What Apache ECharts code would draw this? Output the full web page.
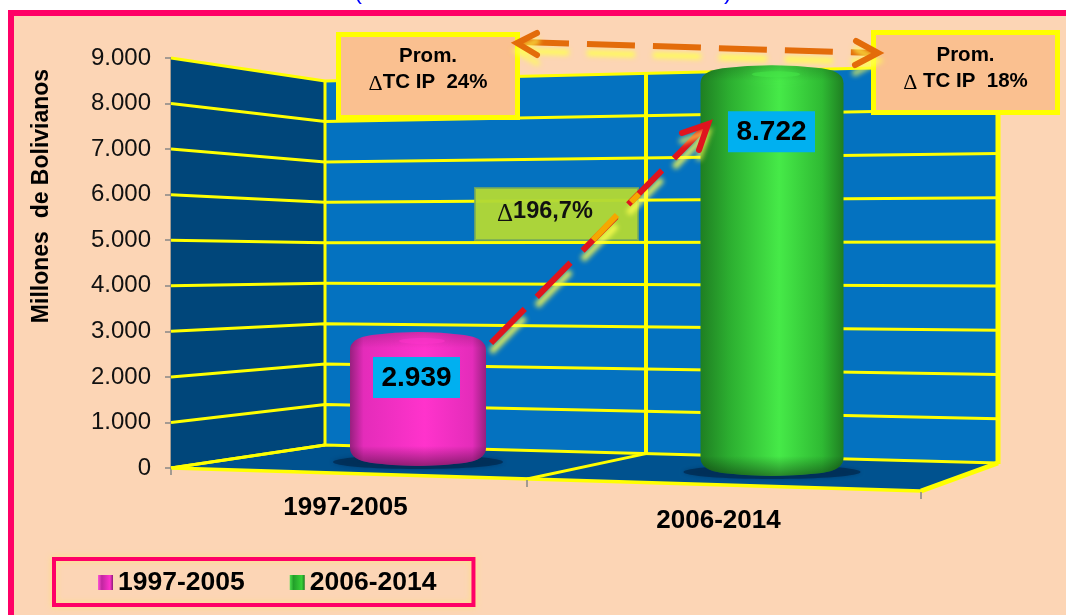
<!DOCTYPE html>
<html>
<head>
<meta charset="utf-8">
<style>html,body{margin:0;background:#fff}#main{width:1066px;height:615px}</style>
<script src="https://cdn.jsdelivr.net/npm/echarts@6/dist/echarts.min.js"></script>
</head>
<body>
<div id="main"></div>
<script>
const periods = ['1997-2005', '2006-2014']
const values = [2939, 8722]
const yTicks = [0, 1000, 2000, 3000, 4000, 5000, 6000, 7000, 8000, 9000]
const yMax = 9000
const promLabels = ['Prom.\n{d|Δ}TC IP  24%', 'Prom.\n{d|Δ} TC IP  18%']
const growthLabel = '{d|Δ}196,7%'

const font = '"Liberation Sans", Arial, sans-serif'
const YELLOW = '#FFFF00'
const PINK = '#FF0066'
// how far each value box sits below the top of its bar
const labelDrop = [25, 46]
const barColors = [
  [['#98207F', 0], ['#E42CBA', 0.1], ['#FF33CC', 0.55], ['#E42CBA', 0.9], ['#98207F', 1]],
  [['#1F7F22', 0], ['#2CAE30', 0.2], ['#46EA48', 0.55], ['#2FBA33', 0.85], ['#1F7F22', 1]]
]

// fake 3d box: x positions of the walls and their y at value 0 / yMax
const box = {
  frontL: 171, backL: 325, backR: 998, frontR: 921,
  floorFrontL: 468, floorBackL: 445, floorBackR: 463, floorFrontR: 491,
  topBackL: 81, topBackR: 65
}

function dotted(v) {
  return String(v).replace(/\B(?=(\d{3})+$)/g, '.')
}

function line(x1, y1, x2, y2, w, color) {
  return { type: 'line', shape: { x1, y1, x2, y2 }, style: { stroke: color || YELLOW, lineWidth: w } }
}

function poly(points, fill) {
  return { type: 'polygon', shape: { points }, style: { fill } }
}

function renderWalls() {
  const b = box
  const midX = 646, midFront = 527
  const midBackY = 453.6, midTopY = 73.4, midFrontY = 479
  return {
    type: 'group',
    children: [
      poly([[b.frontL, 58], [b.backL, b.topBackL], [b.backL, b.floorBackL], [b.frontL, b.floorFrontL]], '#00467A'),
      poly([[b.backL, b.topBackL], [b.backR, b.topBackR], [b.backR, b.floorBackR], [b.backL, b.floorBackL]], '#0472C0'),
      poly([[b.frontL, b.floorFrontL], [b.backL, b.floorBackL], [b.backR, b.floorBackR], [b.frontR, b.floorFrontR]], '#00528F'),
      line(b.backL, b.topBackL, b.backL, b.floorBackL, 3),
      line(midX, midTopY, midX, midBackY, 4),
      line(b.frontL, b.floorFrontL, b.backL, b.floorBackL, 3),
      line(midFront, midFrontY, midX, midBackY, 3),
      line(b.frontL, b.floorFrontL, b.frontR, b.floorFrontR, 3.5),
      line(b.frontR, b.floorFrontR, b.backR, b.floorBackR, 5),
      line(b.backR, b.topBackR, b.backR, b.floorBackR + 1, 5),
      line(b.frontL, b.floorFrontL, b.frontL, b.floorFrontL + 7, 1.5, '#868686'),
      line(midFront, midFrontY + 1, midFront, midFrontY + 8, 1.5, '#868686'),
      line(b.frontR, b.floorFrontR + 1, b.frontR, b.floorFrontR + 8, 1.5, '#868686')
    ]
  }
}

function renderGridLine(params, api) {
  const b = box
  const y = api.coord([0, api.value(1)])[1]
  const frac = (b.floorFrontL - y) / (b.floorFrontL - 58)
  const yBackL = b.floorBackL - frac * (b.floorBackL - b.topBackL)
  const yBackR = b.floorBackR - frac * (b.floorBackR - b.topBackR)
  return {
    type: 'polyline',
    shape: { points: [[b.frontL, y], [b.backL, yBackL], [b.backR, yBackR]] },
    style: { stroke: YELLOW, lineWidth: 3, fill: 'none' }
  }
}

function cylinderPath(w, h) {
  const r = 22
  return 'M0 18 Q0 6 ' + r + ' 3 Q' + w / 2 + ' -3 ' + (w - r) + ' 3 Q' + w + ' 6 ' + w + ' 18'
    + ' L' + w + ' ' + (h - 18) + ' Q' + w + ' ' + (h - 6) + ' ' + (w - r) + ' ' + (h - 3)
    + ' Q' + w / 2 + ' ' + (h + 3) + ' ' + r + ' ' + (h - 3) + ' Q0 ' + (h - 6) + ' 0 ' + (h - 18) + ' Z'
}

// the bars stand on the slanted floor, so shift the axis position into the box
function renderBar(params, api) {
  const idx = api.value(0)
  const v = api.value(1)
  const axisX = api.coord([idx, 0])[0]
  const y0 = api.coord([idx, 0])[1]
  const yV = api.coord([idx, v])[1]
  const t = (axisX - 358.5) / 375
  const cx = 418 + 354 * t
  const base = y0 - 2 + 10 * t
  const h = (y0 - yV) * (1 + 0.034 * t)
  const w = 136 + 7 * t
  const top = base - h
  const x = cx - w / 2
  const c = barColors[idx]
  const rim = 20 / h
  const shape = { pathData: cylinderPath(w, h), x, y: top, width: w, height: h, layout: 'cover' }
  return {
    type: 'group',
    children: [
      {
        type: 'ellipse',
        shape: { cx, cy: base - 4, rx: w / 2 + 17, ry: 7 },
        style: { fill: 'rgba(0,42,80,0.75)', shadowBlur: 4, shadowColor: 'rgba(0,42,80,0.6)' }
      },
      {
        type: 'path', shape,
        style: {
          fill: {
            type: 'linear', x: 0, y: 0, x2: 1, y2: 0,
            colorStops: c.map(s => ({ offset: s[1], color: s[0] }))
          }
        }
      },
      {
        type: 'path', shape,
        style: {
          fill: {
            type: 'linear', x: 0, y: 0, x2: 0, y2: 1,
            colorStops: [
              { offset: 0, color: 'rgba(0,0,0,0.18)' }, { offset: rim * 0.8, color: 'rgba(0,0,0,0)' },
              { offset: 1 - rim, color: 'rgba(0,0,0,0)' }, { offset: 1, color: 'rgba(0,0,0,0.42)' }
            ]
          }
        }
      },
      {
        type: 'ellipse',
        shape: { cx: cx + 4, cy: top + 9, rx: w * 0.17, ry: 3 },
        style: { fill: c[2][0], opacity: 0.5, shadowBlur: 8, shadowColor: c[2][0] }
      },
      {
        type: 'rect',
        shape: { x: cx - 45 + idx, y: top + labelDrop[idx], width: 87, height: 41 },
        style: { fill: '#00B0F0' }
      },
      {
        type: 'text',
        x: cx - 1.5 + idx, y: top + labelDrop[idx] + 21,
        style: { text: dotted(v), font: 'bold 28px ' + font, fill: '#000', align: 'center', verticalAlign: 'middle' }
      }
    ]
  }
}

const deltaStyle = { fontFamily: '"Liberation Serif", serif', fontWeight: 'normal', padding: [4, 0, 0, 0] }

function promBox(x, y, w, h, text, textY) {
  return [
    { type: 'rect', z: 10, shape: { x, y, width: w, height: h }, style: { fill: '#FAC090', stroke: YELLOW, lineWidth: 5 } },
    {
      type: 'text', z: 11, x: x + w / 2, y: textY,
      style: {
        text, fontFamily: font, fontWeight: 'bold', fontSize: 20.5, fill: '#000', align: 'center', verticalAlign: 'middle', lineHeight: 26,
        rich: { d: Object.assign({ fontSize: 22, lineHeight: 26 }, deltaStyle) }
      }
    }
  ]
}

function arrowLine(x1, y1, x2, y2, color, dash) {
  return {
    type: 'line', z: 12,
    shape: { x1, y1, x2, y2 },
    style: { stroke: color, lineWidth: 6, lineDash: dash, shadowColor: 'rgba(255,255,80,0.9)', shadowBlur: 5, shadowOffsetY: 9 }
  }
}

function arrowHead(points, color) {
  return {
    type: 'polyline', z: 12,
    shape: { points },
    style: { stroke: color, lineWidth: 6, fill: 'none', lineCap: 'round', shadowColor: 'rgba(255,255,80,0.7)', shadowBlur: 5, shadowOffsetY: 8 }
  }
}

const chart = echarts.init(document.getElementById('main'))
const option = {
  animation: false,
  backgroundColor: '#fff',
  textStyle: { fontFamily: font },
  grid: { left: 171, top: 58, width: 750, height: 410 },
  legend: {
    left: 54, top: 559,
    padding: [10, 37, 9, 44],
    data: periods,
    selectedMode: false,
    icon: 'rect',
    itemWidth: 15, itemHeight: 15, itemGap: 45,
    borderColor: PINK, borderWidth: 4,
    shadowColor: '#FFE27A', shadowBlur: 6,
    textStyle: { fontSize: 26.5, fontWeight: 'bold', color: '#000', fontFamily: font }
  },
  xAxis: {
    type: 'category',
    data: [
      { value: periods[0], textStyle: { padding: [0, 26, 0, 0] } },
      { value: periods[1], textStyle: { padding: [13, 30, 0, 0] } }
    ],
    axisLine: { show: false },
    axisTick: { show: false },
    axisLabel: { fontSize: 26, fontWeight: 'bold', color: '#000', margin: 27, fontFamily: font }
  },
  yAxis: {
    type: 'value', min: 0, max: yMax, interval: 1000,
    name: 'Millones  de Bolivianos',
    nameLocation: 'middle', nameRotate: 90, nameGap: 118,
    nameTextStyle: { fontSize: 23, fontWeight: 'bold', color: '#000', fontFamily: font, padding: [0, 0, 0, 134] },
    splitLine: { show: false },
    axisLine: { show: true, lineStyle: { color: '#868686', width: 1.5 } },
    axisTick: { show: true, length: 6, lineStyle: { color: '#868686', width: 1.5 } },
    axisLabel: { fontSize: 24, color: '#111', margin: 20, padding: [9, 0, 0, 0], fontFamily: font, formatter: dotted }
  },
  series: [
    { type: 'custom', name: 'walls', z: 1, silent: true, data: [[0, 0]], encode: { x: 0, y: 1 }, renderItem: renderWalls },
    { type: 'custom', name: 'grid', z: 1, silent: true, data: yTicks.map(v => [0, v]), encode: { x: 0, y: 1 }, renderItem: renderGridLine },
    {
      type: 'custom', name: periods[0], z: 3, data: [[0, values[0]]], encode: { x: 0, y: 1 }, renderItem: renderBar,
      itemStyle: { color: { type: 'linear', x: 0, y: 0, x2: 1, y2: 0, colorStops: [{ offset: 0, color: '#FF55D5' }, { offset: 0.25, color: '#C026A0' }, { offset: 0.8, color: '#FF33CC' }, { offset: 1, color: '#8C1C75' }] } }
    },
    {
      type: 'custom', name: periods[1], z: 3, data: [[1, values[1]]], encode: { x: 0, y: 1 }, renderItem: renderBar,
      itemStyle: { color: { type: 'linear', x: 0, y: 0, x2: 1, y2: 0, colorStops: [{ offset: 0, color: '#50E050' }, { offset: 0.25, color: '#22A02A' }, { offset: 0.8, color: '#38D038' }, { offset: 1, color: '#1C7C22' }] } }
    }
  ],
  graphic: [
    // page frame, open on the right and at the bottom
    { type: 'rect', z: -3, shape: { x: 8, y: 10, width: 1058, height: 605, r: [3, 0, 0, 0] }, style: { fill: '#FCD5B5' } },
    { type: 'rect', z: -2, shape: { x: 8, y: 10, width: 1058, height: 6 }, style: { fill: PINK } },
    { type: 'rect', z: -2, shape: { x: 8, y: 10, width: 6, height: 605 }, style: { fill: PINK } },
    { type: 'text', z: -4, x: 354, y: -20, style: { text: '(', font: '24px ' + font, fill: '#0000FF' } },
    { type: 'text', z: -4, x: 724, y: -20, style: { text: ')', font: '24px ' + font, fill: '#0000FF' } },

    ...promBox(338.5, 34.5, 179, 83, promLabels[0], 69),
    ...promBox(873.5, 32.5, 184, 80, promLabels[1], 68),

    { type: 'rect', z: 10, shape: { x: 475, y: 188, width: 163, height: 52 }, style: { fill: 'rgba(178,216,52,0.96)', stroke: 'rgba(120,170,90,0.8)', lineWidth: 2 } },
    {
      type: 'text', z: 11, x: 497, y: 212,
      style: {
        text: growthLabel, fontFamily: font, fontWeight: 'bold', fontSize: 23.5, fill: '#111', verticalAlign: 'middle',
        rich: { d: Object.assign({ fontSize: 25 }, deltaStyle) }
      }
    },

    // growth arrow between the bars
    arrowLine(491, 343, 703, 129, '#E0141E', [48, 17]),
    arrowHead([[682, 133], [708, 124], [699, 150]], '#E0141E'),
    // the two dashes that cross the green box look orange there
    { type: 'line', z: 13, shape: { x1: 631, y1: 202, x2: 639, y2: 194 }, style: { stroke: '#F5A800', lineWidth: 6 } },
    { type: 'line', z: 13, shape: { x1: 617, y1: 215, x2: 593, y2: 240 }, style: { stroke: '#F5A800', lineWidth: 6 } },
    // arrow between the two averages
    arrowLine(521, 42, 874, 53, '#E36C0A', [48, 18]),
    arrowHead([[537, 33], [517, 43], [537, 55]], '#E36C0A'),
    arrowHead([[856, 41], [878, 53], [855, 65]], '#E36C0A')
  ]
}
chart.setOption(option)
</script>
</body>
</html>
